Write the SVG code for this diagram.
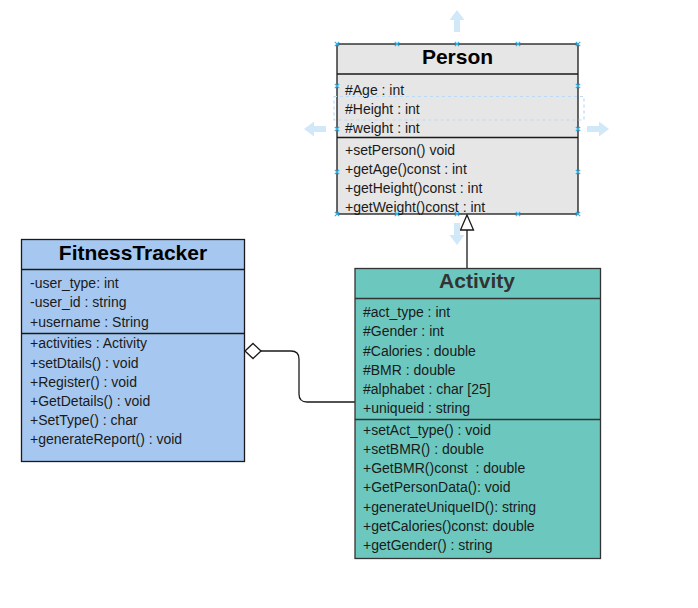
<svg xmlns="http://www.w3.org/2000/svg" width="698" height="608" viewBox="0 0 698 608">
  <style>
    .box { stroke-width: 1.3; }
    .title { font-family: "Liberation Sans", Arial, sans-serif; font-size: 21px; font-weight: bold; text-anchor: middle; }
    .row { font-family: "Liberation Sans", Arial, sans-serif; font-size: 14px; fill: #1a1a1a; white-space: pre; }
    .edge { fill: none; stroke: #1a1a1a; stroke-width: 1.3; }
    .handle { stroke: #29b6f2; stroke-width: 1.2; }
    .hint { fill: #d1e8f9; }
  </style>
  <defs>
    <path id="hx" d="M-2.2,-2.2 L2.2,2.2 M-2.2,2.2 L2.2,-2.2" class="handle"/>
    <!-- block arrow pointing up, tip at origin -->
    <path id="harrow" d="M0,0 L7.5,10 L3,10 L3,22 L-3,22 L-3,10 L-7.5,10 Z" class="hint"/>
  </defs>
  <rect width="698" height="608" fill="#ffffff"/>

  <!-- connectors -->
  <g id="connectors">
    <path class="edge" d="M467,268 L467,230"/>
    <path d="M467,215 L473.5,230 L460.5,230 Z" fill="#ffffff" stroke="#1a1a1a" stroke-width="1.3"/>
    <path class="edge" d="M261,351 L291,351 Q299,351 299,359 L299,394 Q299,402 307,402 L355,402"/>
    <path d="M245,351 L253,343.5 L261,351 L253,358.5 Z" fill="#ffffff" stroke="#1a1a1a" stroke-width="1.3"/>
  </g>

  <!-- Person class -->
  <g id="person">
    <rect class="box" x="337" y="44" width="241" height="170" fill="#e6e6e6" stroke="#1a1a1a"/>
    <line x1="337" y1="74" x2="578" y2="74" stroke="#1a1a1a" stroke-width="1.3"/>
    <line x1="337" y1="137.5" x2="578" y2="137.5" stroke="#1a1a1a" stroke-width="1.3"/>
    <text class="title" x="457.5" y="64" fill="#000000">Person</text>
    <text class="row" x="345" y="95">#Age : int</text>
    <text class="row" x="345" y="114">#Height : int</text>
    <text class="row" x="345" y="133">#weight : int</text>
    <text class="row" x="345" y="155">+setPerson() void</text>
    <text class="row" x="345" y="174">+getAge()const : int</text>
    <text class="row" x="345" y="193">+getHeight()const : int</text>
    <text class="row" x="345" y="212">+getWeight()const : int</text>
  </g>

  <!-- FitnessTracker class -->
  <g id="fitnesstracker">
    <rect class="box" x="21.5" y="239.5" width="223" height="222" fill="#a6c8f0" stroke="#1a1a1a"/>
    <line x1="21.5" y1="269.5" x2="244.5" y2="269.5" stroke="#1a1a1a" stroke-width="1.3"/>
    <line x1="21.5" y1="333.5" x2="244.5" y2="333.5" stroke="#1a1a1a" stroke-width="1.3"/>
    <text class="title" x="133" y="260" fill="#000000">FitnessTracker</text>
    <text class="row" x="30" y="287.5">-user_type: int</text>
    <text class="row" x="30" y="306.5">-user_id : string</text>
    <text class="row" x="30" y="326.5">+username : String</text>
    <text class="row" x="30" y="348">+activities : Activity</text>
    <text class="row" x="30" y="367.5">+setDtails() : void</text>
    <text class="row" x="30" y="386.5">+Register() : void</text>
    <text class="row" x="30" y="405.5">+GetDetails() : void</text>
    <text class="row" x="30" y="424.5">+SetType() : char</text>
    <text class="row" x="30" y="443.5">+generateReport() : void</text>
  </g>

  <!-- Activity class -->
  <g id="activity">
    <rect class="box" x="355" y="268.5" width="245.5" height="290" fill="#6cc8be" stroke="#333333"/>
    <line x1="355" y1="298.5" x2="600.5" y2="298.5" stroke="#333333" stroke-width="1.3"/>
    <line x1="355" y1="419.5" x2="600.5" y2="419.5" stroke="#333333" stroke-width="1.3"/>
    <text class="title" x="477" y="288" fill="#333333">Activity</text>
    <text class="row" x="363" y="317">#act_type : int</text>
    <text class="row" x="363" y="336">#Gender : int</text>
    <text class="row" x="363" y="355.5">#Calories : double</text>
    <text class="row" x="363" y="374.5">#BMR : double</text>
    <text class="row" x="363" y="393.5">#alphabet : char [25]</text>
    <text class="row" x="363" y="412.5">+uniqueid : string</text>
    <text class="row" x="363" y="435">+setAct_type() : void</text>
    <text class="row" x="363" y="454">+setBMR() : double</text>
    <text class="row" x="363" y="473" xml:space="preserve">+GetBMR()const  : double</text>
    <text class="row" x="363" y="492">+GetPersonData(): void</text>
    <text class="row" x="363" y="511.5">+generateUniqueID(): string</text>
    <text class="row" x="363" y="530.5">+getCalories()const: double</text>
    <text class="row" x="363" y="549.5">+getGender() : string</text>
  </g>

  <!-- selection overlay on Person -->
  <g id="selection">
    <rect x="334" y="96.5" width="250" height="23.5" fill="none" stroke="#bcd9f5" stroke-width="1.2" stroke-dasharray="3,3"/>
    <use href="#harrow" transform="translate(457,10)"/>
    <use href="#harrow" transform="translate(457,245) rotate(180)"/>
    <use href="#harrow" transform="translate(304,129) rotate(-90)"/>
    <use href="#harrow" transform="translate(609,129) rotate(90)"/>
    <use href="#hx" x="337" y="44"/>
    <use href="#hx" x="397" y="44"/>
    <use href="#hx" x="457" y="44"/>
    <use href="#hx" x="518" y="44"/>
    <use href="#hx" x="578" y="44"/>
    <use href="#hx" x="337" y="214"/>
    <use href="#hx" x="397" y="214"/>
    <use href="#hx" x="457" y="214"/>
    <use href="#hx" x="518" y="214"/>
    <use href="#hx" x="578" y="214"/>
    <use href="#hx" x="337" y="86"/>
    <use href="#hx" x="337" y="129"/>
    <use href="#hx" x="337" y="172"/>
    <use href="#hx" x="578" y="86"/>
    <use href="#hx" x="578" y="129"/>
    <use href="#hx" x="578" y="172"/>
  </g>
</svg>
